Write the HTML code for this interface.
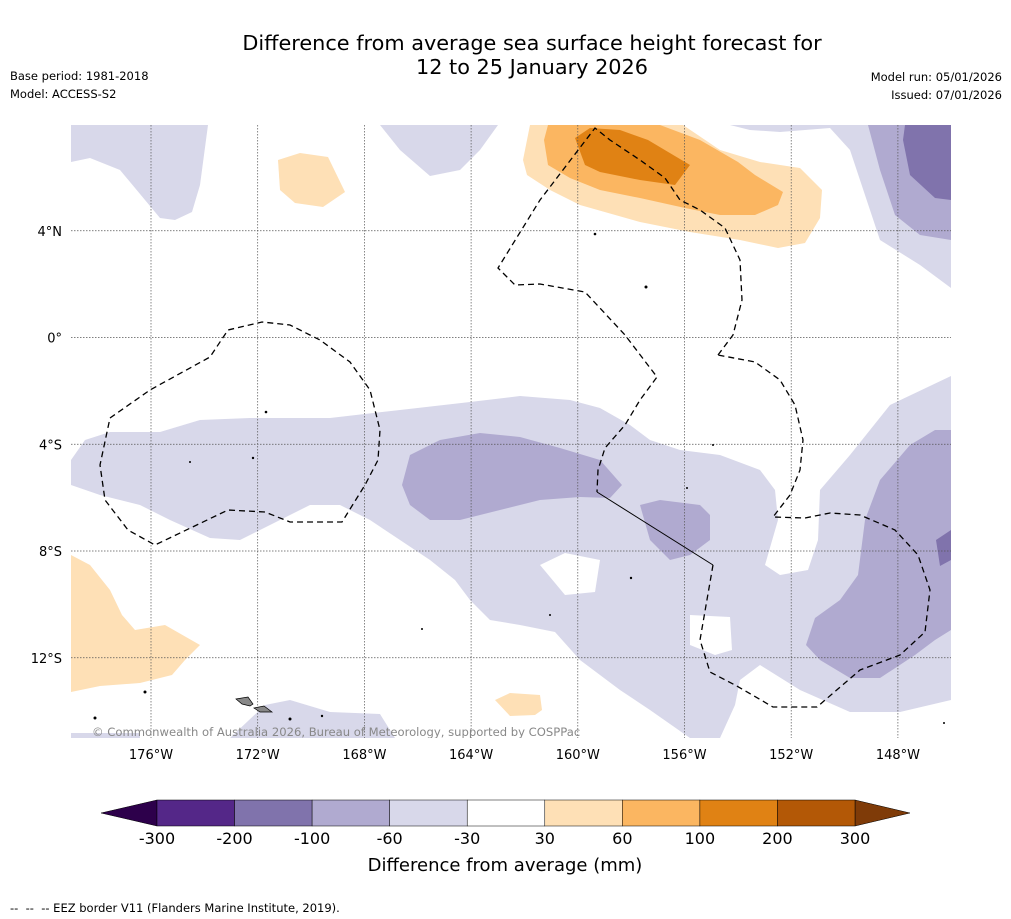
<!DOCTYPE html>
<html><head><meta charset="utf-8"><style>
body{margin:0;background:#fff;}
svg{display:block;font-family:"DejaVu Sans","Liberation Sans",sans-serif;}
</style></head><body>
<svg width="1011" height="919" viewBox="0 0 1011 919">
<text x="532" y="50" text-anchor="middle" font-size="20.8">Difference from average sea surface height forecast for</text>
<text x="532" y="74" text-anchor="middle" font-size="20.8">12 to 25 January 2026</text>
<text x="10" y="80" font-size="11.5">Base period: 1981-2018</text>
<text x="10" y="98" font-size="11.5">Model: ACCESS-S2</text>
<text x="1002" y="81" font-size="11.5" text-anchor="end">Model run: 05/01/2026</text>
<text x="1002" y="99" font-size="11.5" text-anchor="end">Issued: 07/01/2026</text>

<defs><clipPath id="mapclip"><rect x="71" y="125" width="880" height="613"/></clipPath></defs>
<g id="map" clip-path="url(#mapclip)">
<rect x="71" y="125" width="880" height="613" fill="#fff"/>
<g stroke="none">
<polygon fill="#d8d8ea" points="71,125 208,125 200,185 192,212 175,220 160,218 120,170 90,158 71,162"/>
<polygon fill="#d8d8ea" points="380,125 498,125 480,150 460,170 430,176 400,150"/>
<polygon fill="#d8d8ea" points="730,125 951,125 951,288 920,265 880,240 865,195 850,150 830,128 780,132 750,130"/>
<polygon fill="#b0aad0" points="868,125 951,125 951,240 920,235 895,215 880,170"/>
<polygon fill="#8073ac" points="905,125 951,125 951,200 935,198 910,175 903,140"/>
<polygon fill="#d8d8ea" points="71,460 85,440 110,432 160,432 200,420 250,418 330,418 400,410 470,402 520,396 570,400 600,408 630,425 650,440 680,450 720,455 760,470 775,490 778,520 765,565 780,575 808,570 818,540 820,490 850,455 890,405 951,376 951,700 900,712 850,712 800,690 760,665 740,680 735,705 720,738 690,738 650,710 620,690 580,660 555,632 520,625 490,620 470,600 455,580 430,560 400,540 370,520 340,505 310,505 290,515 260,530 240,540 210,538 170,520 140,505 100,495 71,485"/>
<polygon fill="#fff" points="540,565 565,553 600,560 595,592 565,595"/>
<polygon fill="#fff" points="690,615 730,617 732,650 715,655 690,645"/>
<polygon fill="#b0aad0" points="410,455 440,440 480,433 520,437 560,448 600,460 622,485 610,498 580,497 540,500 500,510 460,520 430,520 410,505 402,485"/>
<polygon fill="#b0aad0" points="640,505 660,500 700,505 710,515 710,540 690,555 670,560 650,540"/>
<polygon fill="#b0aad0" points="951,430 951,630 935,640 915,655 880,678 850,678 820,660 806,645 815,618 840,600 858,575 865,520 880,480 910,445 935,430"/>
<polygon fill="#8073ac" points="951,530 951,560 940,566 936,540"/>
<polygon fill="#d8d8ea" points="230,738 265,705 290,700 330,712 380,714 395,738"/>
<polygon fill="#d8d8ea" points="71,733 140,733 140,738 71,738"/>
<polygon fill="#fee0b6" points="71,555 90,565 110,590 122,615 135,630 165,625 200,645 185,660 172,675 140,683 100,686 71,692"/>
<polygon fill="#fee0b6" points="278,160 300,153 328,157 345,192 323,207 295,203 280,190"/>
<polygon fill="#fee0b6" points="495,700 510,693 540,695 542,710 535,715 510,716"/>
<polygon fill="#fee0b6" points="530,125 683,125 720,150 760,162 800,168 822,190 820,218 805,243 778,248 740,240 690,232 640,222 580,205 550,190 527,175 523,160"/>
<polygon fill="#fbb661" points="548,125 660,125 700,140 738,162 755,175 783,192 778,205 755,215 720,215 685,208 640,198 600,190 570,178 548,165 544,140"/>
<polygon fill="#e08214" points="575,138 590,128 620,130 648,140 690,165 675,185 640,180 600,172 585,165"/>
</g>
<g id="grid" stroke="#555" stroke-width="0.7" stroke-dasharray="1.5,1.5" fill="none"></g>
<g fill="#000">
<polygon fill="#888" stroke="#000" stroke-width="0.7" points="236,699 248,697 253,704 250,706 242,704"/>
<polygon fill="#888" stroke="#000" stroke-width="0.7" points="254,708 264,706 272,712 260,712"/>
<circle cx="145" cy="692" r="1.5"/><circle cx="95" cy="718" r="1.5"/><circle cx="290" cy="719" r="1.5"/>
<circle cx="322" cy="716" r="1.2"/><circle cx="266" cy="412" r="1.3"/><circle cx="253" cy="458" r="1.2"/>
<circle cx="190" cy="462" r="1"/><circle cx="595" cy="234" r="1.3"/><circle cx="646" cy="287" r="1.5"/>
<circle cx="631" cy="578" r="1.2"/><circle cx="550" cy="615" r="1"/><circle cx="713" cy="445" r="1"/>
<circle cx="687" cy="488" r="1"/><circle cx="422" cy="629" r="1"/><circle cx="944" cy="723" r="1"/>
</g>
<polyline fill="none" stroke="#000" stroke-width="1.3" stroke-dasharray="6,4" points="110,418 150,390 210,357 228,330 262,322 290,325 320,340 350,362 370,390 380,430 378,460 365,485 342,522 290,522 265,512 228,510 155,545 128,530 105,500 100,465 110,418"/>
<polyline fill="none" stroke="#000" stroke-width="1.3" stroke-dasharray="6,4" points="718,355 733,335 742,300 740,260 725,228 700,210 680,200 665,178 640,160 610,140 595,128 540,200 498,268 515,285 540,284 585,292 625,335 657,377 640,400 625,425 605,448 598,470 597,492"/>
<polyline fill="none" stroke="#000" stroke-width="1" points="597,492 713,565"/>
<polyline fill="none" stroke="#000" stroke-width="1.3" stroke-dasharray="6,4" points="713,565 700,640 710,672 735,685 773,707 817,707 860,670 900,655 925,632 930,590 918,555 895,530 860,515 830,513 805,518 773,517 790,495 800,470 803,440 795,405 780,380 755,362 718,355"/>
<text x="92" y="736" font-size="11.6" fill="#888">© Commonwealth of Australia 2026, Bureau of Meteorology, supported by COSPPac</text>
</g>
<g id="axes"></g>
<g id="colorbar"></g>
<text x="505" y="871" text-anchor="middle" font-size="18">Difference from average (mm)</text>
<text x="10" y="912" font-size="11.5">-- &#160;-- &#160;-- EEZ border V11 (Flanders Marine Institute, 2019).</text>
</svg>
<script>
const lonTicks=[-176,-172,-168,-164,-160,-156,-152,-148];
const lonLabels=["176°W","172°W","168°W","164°W","160°W","156°W","152°W","148°W"];
const latTicks=[4,0,-4,-8,-12];
const latLabels=["4°N","0°","4°S","8°S","12°S"];
const levels=[-300,-200,-100,-60,-30,30,60,100,200,300];
const levelColors=["#542788","#8073ac","#b0aad0","#d8d8ea","#ffffff","#fee0b6","#fbb661","#e08214","#b35806"];
const underColor="#2d004b", overColor="#7f3b08";
const NS="http://www.w3.org/2000/svg";
function lonX(l){return 151+(l+176)*106.7/4;}
function latY(l){return 337.5-l*106.75/4;}
function mk(t,a,p){const e=document.createElementNS(NS,t);for(const k in a)e.setAttribute(k,a[k]);p.appendChild(e);return e;}
const grid=document.getElementById('grid'),axes=document.getElementById('axes');
lonTicks.forEach((l,i)=>{const x=lonX(l);
 const g=mk('line',{x1:x,x2:x,y1:125,y2:738},grid);
 
 
 const t=mk('text',{x:x,y:759,'text-anchor':'middle','font-size':13},axes);t.textContent=lonLabels[i];
 
 });
latTicks.forEach((l,i)=>{const y=latY(l);
 const g=mk('line',{x1:71,x2:951,y1:y,y2:y},grid);
 
 
 const t=mk('text',{x:62,y:y+5,'text-anchor':'end','font-size':13},axes);t.textContent=latLabels[i];
 
 });
const cb=document.getElementById('colorbar');
const x0=157,x1=855,y0=800,y1=826,n=levelColors.length,w=(x1-x0)/n;
const u=mk('polygon',{points:`${x0},${y0} 101,813 ${x0},${y1}`,fill:underColor,stroke:'#000','stroke-width':0.5},cb);


const o=mk('polygon',{points:`${x1},${y0} 910,813 ${x1},${y1}`,fill:overColor,stroke:'#000','stroke-width':0.5},cb);


levelColors.forEach((c,i)=>{const r=mk('rect',{x:x0+i*w,y:y0,width:w,height:y1-y0,fill:c,stroke:'#000','stroke-width':0.5},cb);
 
 });
levels.forEach((v,i)=>{const t=mk('text',{x:x0+i*w,y:844,'text-anchor':'middle','font-size':16},cb);t.textContent=v;
 
 });
</script>
</body></html>
